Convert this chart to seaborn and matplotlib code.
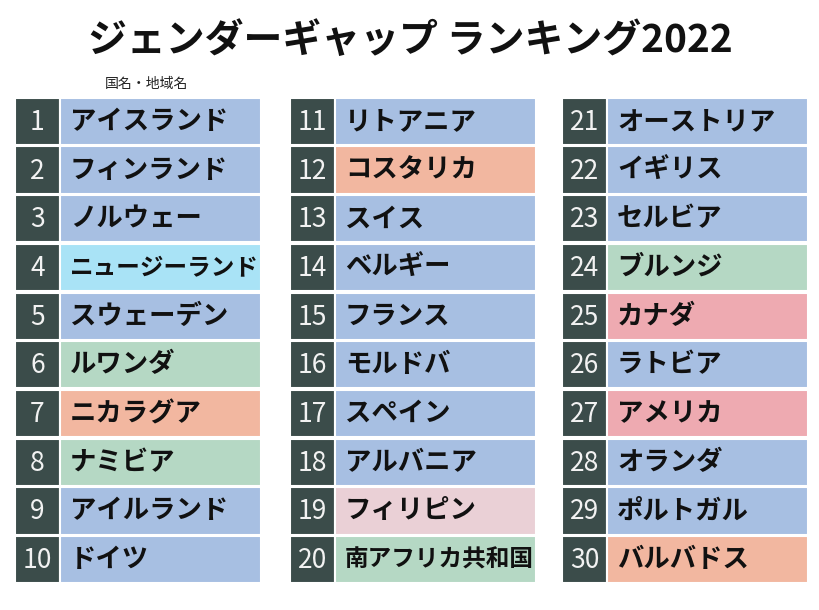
import matplotlib
matplotlib.use("Agg")
import numpy as np
import pandas as pd
import seaborn as sns
from matplotlib import pyplot as plt

TITLE = "ジェンダーギャップ ランキング2022"
HEADER = "国名・地域名"

ranks = list(range(1, 31))
countries = [
    "アイスランド", "フィンランド", "ノルウェー", "ニュージーランド", "スウェーデン",
    "ルワンダ", "ニカラグア", "ナミビア", "アイルランド", "ドイツ",
    "リトアニア", "コスタリカ", "スイス", "ベルギー", "フランス",
    "モルドバ", "スペイン", "アルバニア", "フィリピン", "南アフリカ共和国",
    "オーストリア", "イギリス", "セルビア", "ブルンジ", "カナダ",
    "ラトビア", "アメリカ", "オランダ", "ポルトガル", "バルバドス",
]
# region group of each entry (decides the cell colour)
regions = [
    "europe", "europe", "europe", "oceania", "europe",
    "africa", "latam", "africa", "europe", "europe",
    "europe", "latam", "europe", "europe", "europe",
    "europe", "europe", "europe", "asia", "africa",
    "europe", "europe", "europe", "africa", "namerica",
    "europe", "namerica", "europe", "europe", "latam",
]

palette = {
    "europe": "#a7bfe2",
    "oceania": "#a9e3f6",
    "africa": "#b5d8c4",
    "latam": "#f2b7a0",
    "asia": "#ead0d6",
    "namerica": "#eeaab1",
}
rank_color = "#3b4c4a"

sns.set_style("white")

df = pd.DataFrame({"rank": ranks, "country": countries, "region": regions})
df["col"] = (df["rank"] - 1) // 10
df["row"] = (df["rank"] - 1) % 10

W, H = 820, 610
fig = plt.figure(figsize=(W / 100, H / 100), dpi=100)
ax = fig.add_axes([0, 0, 1, 1])

jp = "Noto Sans CJK JP"
col_x = [15, 290, 562]
rank_w, name_w = 45, 201
top, row_h = 97, 48.7

df["y"] = top + row_h * (df["row"] + 0.5)
df["x0"] = [col_x[c] for c in df["col"]]

# rank boxes
ax.barh(df["y"], rank_w, left=df["x0"], height=row_h - 1.5,
        color=rank_color, edgecolor="white", linewidth=1.5)
# name boxes
ax.barh(df["y"], name_w, left=df["x0"] + rank_w, height=row_h - 1.5,
        color=[palette[r] for r in df["region"]], edgecolor="white", linewidth=1.5)
ax.set_xlim(0, W)
ax.set_ylim(H, 0)
ax.axis("off")

for _, r in df.iterrows():
    ax.text(r["x0"] + rank_w / 2, r["y"] + 1, str(r["rank"]), ha="center", va="center",
            color="#f2f2f2", fontsize=19, fontfamily=jp)
    fs = 19 if len(r["country"]) < 8 else 17
    ax.text(r["x0"] + rank_w + 10, r["y"], r["country"], ha="left", va="center",
            color="#111111", fontsize=fs, fontweight="bold", fontfamily=jp)

ax.text(410, 40, TITLE, ha="center", va="center", fontsize=28, fontweight="bold",
        fontfamily=jp, color="#111111")
ax.text(146, 84, HEADER, ha="center", va="center", fontsize=10, fontfamily=jp,
        color="#222222")

fig.savefig("out.png", dpi=100, facecolor="white")
